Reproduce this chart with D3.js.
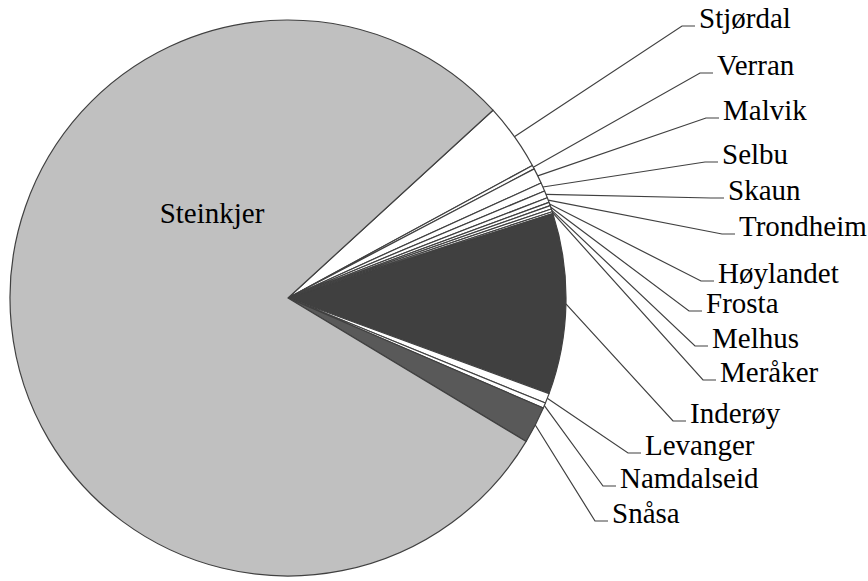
<!DOCTYPE html>
<html>
<head>
<meta charset="utf-8">
<script src="https://cdn.jsdelivr.net/npm/d3@7"></script>
</head>
<body style="margin:0">
<script>
// municipalities, clockwise from the Steinkjer/Stjørdal edge
var names = ["Stjørdal", "Verran", "Malvik", "Selbu", "Skaun", "Trondheim", "Høylandet",
             "Frosta", "Melhus", "Meråker", "Inderøy", "Levanger", "Namdalseid", "Snåsa", "Steinkjer"];
// share in percent
var values = [3.9, 0.22, 0.9, 0.5, 0.42, 0.28, 0.2, 0.2, 0.17, 0.11, 10.5, 0.58, 0.31, 2.15, 79.6];
var fills = ["#ffffff", "#ffffff", "#ffffff", "#ffffff", "#ffffff", "#ffffff", "#ffffff",
             "#ffffff", "#ffffff", "#ffffff", "#404040", "#ffffff", "#ffffff", "#595959", "#c0c0c0"];

// label anchors (text left x, baseline y) - placed by hand like in the original
var labelPos = [[699, 28], [717, 75], [723, 120], [722, 164], [728, 200], [739, 236], [718, 283],
                [706, 313], [712, 348], [720, 382], [690, 423], [645, 455], [620, 488], [612, 523]];

var width = 868, height = 581;
var cx = 288, cy = 298, radius = 278;

var svg = d3.select("body").append("svg")
        .attr("width", width)
        .attr("height", height);

svg.append("style")
        .text("text { font-family: 'Times New Roman' !important; font-size: 29px; }");

var data = names.map(function(d, i) { return {name: d, value: values[i], fill: fills[i]}; });

var pie = d3.pie()
        .sort(null)
        .value(function(d) { return d.value; })
        .startAngle(47.5 * Math.PI / 180)
        .endAngle(407.5 * Math.PI / 180);

var arc = d3.arc()
        .innerRadius(0)
        .outerRadius(radius);

var arcs = pie(data);

var g = svg.append("g")
        .attr("transform", "translate(" + cx + "," + cy + ")");

g.selectAll("path")
        .data(arcs)
        .enter().append("path")
        .attr("d", arc)
        .style("fill", function(d) { return d.data.fill; })
        .style("stroke", "#404040")
        .style("stroke-width", 1.2)
        .style("stroke-linejoin", "round");

// leader lines + labels for everything but Steinkjer
var outside = arcs.slice(0, labelPos.length);

svg.selectAll("polyline")
        .data(outside)
        .enter().append("polyline")
        .attr("points", function(d, i) {
            var a = (d.startAngle + d.endAngle) / 2;
            var px = cx + Math.sin(a) * radius,
                py = cy - Math.cos(a) * radius;
            var lx = labelPos[i][0], ly = labelPos[i][1] - 2;
            return [[px, py], [lx - 17, ly], [lx - 4, ly]].join(" ");
        })
        .style("fill", "none")
        .style("stroke", "#404040")
        .style("stroke-width", 1.2);

svg.selectAll("text")
        .data(outside)
        .enter().append("text")
        .attr("x", function(d, i) { return labelPos[i][0]; })
        .attr("y", function(d, i) { return labelPos[i][1]; })
        .text(function(d) { return d.data.name; });

svg.append("text")
        .attr("x", 212)
        .attr("y", 223)
        .style("text-anchor", "middle")
        .text(names[names.length - 1]);
</script>
</body>
</html>
